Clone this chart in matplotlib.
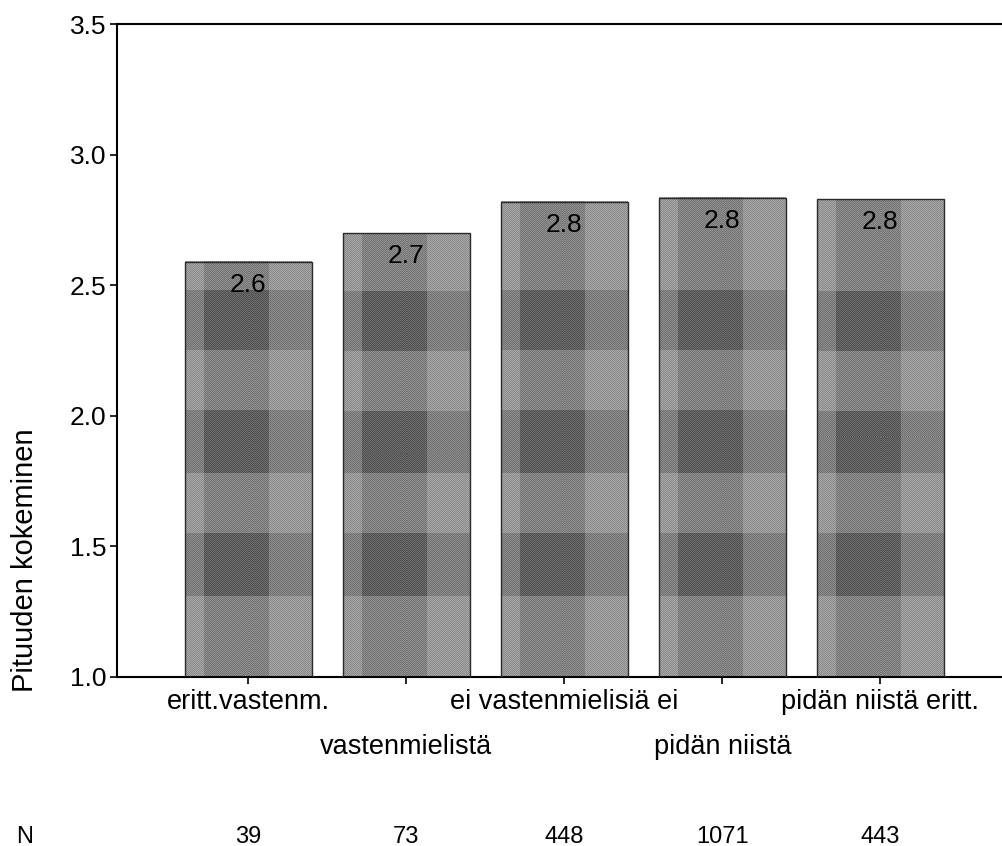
import numpy as np
import matplotlib
matplotlib.use('Agg')
import matplotlib.pyplot as plt
from matplotlib.transforms import blended_transform_factory

plt.rcParams['font.family'] = ['Liberation Sans', 'DejaVu Sans']

# data
categories = ['eritt.vastenm.', 'vastenmielistä', 'ei vastenmielisiä ei',
              'pidän niistä', 'pidän niistä eritt.']
means = [2.59, 2.70, 2.82, 2.835, 2.83]
n_counts = [39, 73, 448, 1071, 443]
yticks = [1.0, 1.5, 2.0, 2.5, 3.0, 3.5]

fig = plt.figure(figsize=(10.02, 8.46), dpi=100)
ax = fig.add_axes([0.117, 0.2, 0.883, 0.7716])

x = np.arange(len(categories))
bars = ax.bar(x, [m - 1.0 for m in means], bottom=1.0, width=0.8,
              facecolor='none', edgecolor='#2a2a2a', linewidth=1.0, zorder=3)

# ruudullinen (plaid) harmaa täyttö
h_bands = [(1.31, 1.55), (1.78, 2.02), (2.25, 2.48)]
for b in bars:
    x0, w = b.get_x(), b.get_width()
    y0, h = b.get_y(), b.get_height()
    ny, nx = int(h * 262), int(w * 158)
    yy = np.linspace(y0 + h, y0, ny)[:, None]
    xx = np.linspace(0, 1, nx)[None, :]
    vband = (xx > 0.15) & (xx < 0.66)
    hband = np.zeros_like(yy, dtype=bool)
    for lo, hi in h_bands:
        hband |= (yy > lo) & (yy < hi)
    g = np.full((ny, nx), 0.60)
    g = np.where(vband, g - 0.09, g)
    g = np.where(hband, g - 0.10, g)
    g = np.where(vband & hband, g - 0.04, g)
    ii, jj = np.indices((ny, nx))
    g = g + np.where((ii + jj) % 2 == 0, 0.06, -0.06)
    img = np.dstack([g, g, g]).clip(0, 1)
    ax.imshow(img, extent=(x0, x0 + w, y0, y0 + h), aspect='auto',
              interpolation='nearest', zorder=2)
    ax.annotate(f'{y0 + h:.1f}', (x0 + w / 2, y0 + h), xytext=(0, -8),
                textcoords='offset points', ha='center', va='top',
                fontsize=19, color='black', zorder=4)

ax.set_xlim(-0.83, 4.77)
ax.set_ylim(1.0, 3.5)
ax.set_yticks(yticks)
ax.set_yticklabels([f'{t:.1f}' for t in yticks], fontsize=19)
ax.set_xticks(x)
ax.set_xticklabels(categories, fontsize=19.5)
for i, t in enumerate(ax.xaxis.get_major_ticks()):
    t.set_pad(4 if i % 2 == 0 else 36)
ax.tick_params(axis='both', direction='out', length=5, width=1.2, color='black')
ax.tick_params(axis='y', pad=3)

ax.spines['right'].set_visible(False)
for s in ['left', 'bottom', 'top']:
    ax.spines[s].set_linewidth(1.5)

fig.text(0.025, 1 - 560 / 846, 'Pituuden kokeminen', rotation=90,
         ha='center', va='center', fontsize=21)

# N-rivi
trans = blended_transform_factory(ax.transData, fig.transFigure)
fig.text(0.025, 1 - 837 / 846, 'N', ha='center', va='center', fontsize=17)
for xi, n in zip(x, n_counts):
    ax.text(xi, 1 - 837 / 846, str(n), transform=trans, ha='center',
            va='center', fontsize=17)

fig.savefig('out.png', dpi=100)
